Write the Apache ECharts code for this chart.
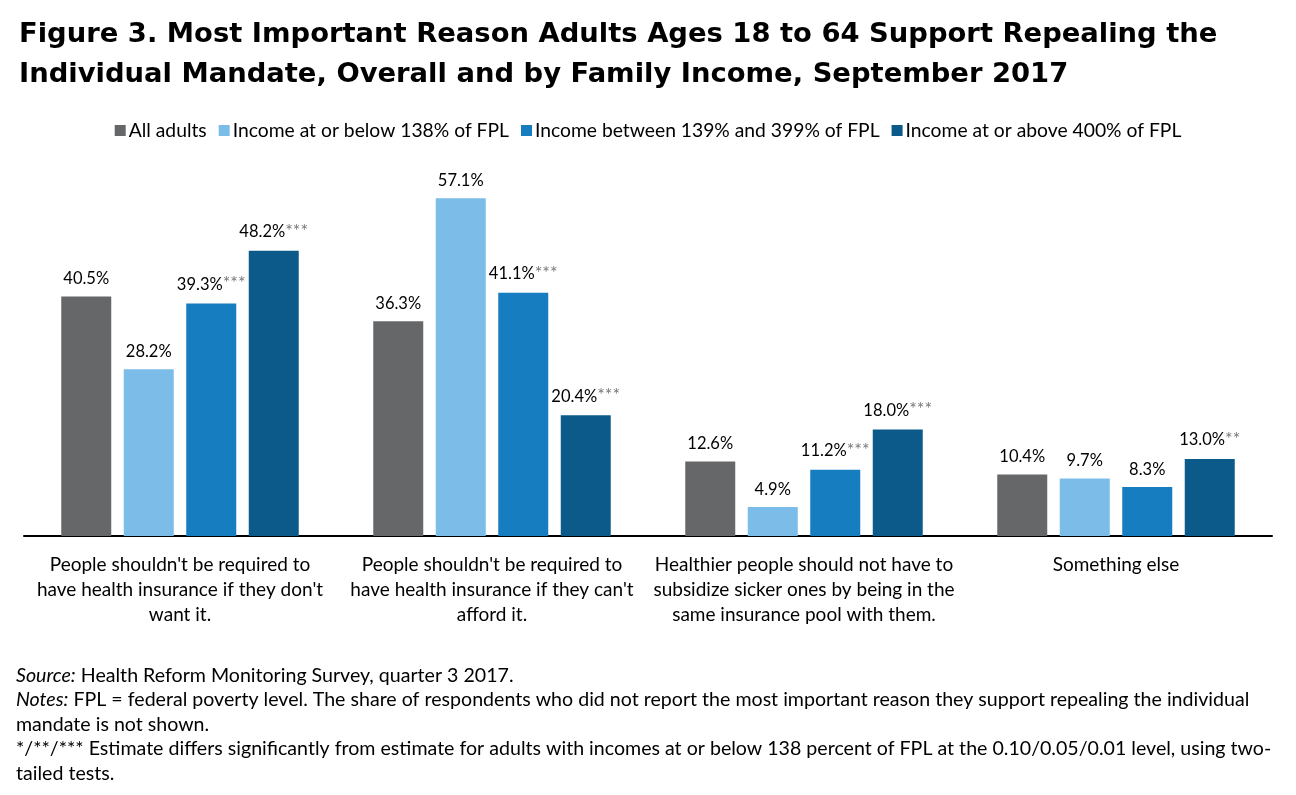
<!DOCTYPE html>
<html><head><meta charset="utf-8">
<script src="https://cdn.jsdelivr.net/npm/echarts@6/dist/echarts.min.js"></script>
<style>html,body{margin:0;padding:0;background:#fff}#c{width:1296px;height:795px}</style>
</head><body><div id="c"></div>
<script>
const categories = [
  "People shouldn't be required to\nhave health insurance if they don't\nwant it.",
  "People shouldn't be required to\nhave health insurance if they can't\nafford it.",
  "Healthier people should not have to\nsubsidize sicker ones by being in the\nsame insurance pool with them.",
  "Something else"
];
const seriesNames = ["All adults", "Income at or below 138% of FPL", "Income between 139% and 399% of FPL", "Income at or above 400% of FPL"];
const allAdults = [40.5, 36.3, 12.6, 10.4];
const lowIncome = [28.2, 57.1, 4.9, 9.7];
const midIncome = [39.3, 41.1, 11.2, 8.3];
const highIncome = [48.2, 20.4, 18.0, 13.0];
const allAdultsSig = ["", "", "", ""];
const lowIncomeSig = ["", "", "", ""];
const midIncomeSig = ["***", "***", "***", ""];
const highIncomeSig = ["***", "***", "***", "**"];
const colors = ["#666769", "#7BBDE8", "#167DC1", "#0C5A8A"];

const FONT = "Lato, 'Open Sans', sans-serif";
const values = [allAdults, lowIncome, midIncome, highIncome];
const sigs = [allAdultsSig, lowIncomeSig, midIncomeSig, highIncomeSig];

const chart = echarts.init(document.getElementById('c'));
chart.setOption({
  backgroundColor: '#fff',
  animation: false,
  textStyle: {fontFamily: FONT},
  title: {
    text: "Figure 3. Most Important Reason Adults Ages 18 to 64 Support Repealing the\nIndividual Mandate, Overall and by Family Income, September 2017",
    left: 14, top: 10,
    textStyle: {fontFamily: "'DejaVu Sans', sans-serif", fontSize: 27.4, fontWeight: 'bold', color: '#000', lineHeight: 40}
  },
  legend: {
    top: 116, left: 'center',
    itemWidth: 11, itemHeight: 11, itemGap: 12,
    icon: 'rect',
    textStyle: {fontFamily: FONT, fontSize: 19.3, color: '#000', padding: [0,0,0,-2]},
    data: seriesNames
  },
  grid: {left: 24, right: 24, top: 181, bottom: 259},
  xAxis: {
    type: 'category', data: categories,
    axisLine: {lineStyle: {color: '#000', width: 2}},
    axisTick: {show: false},
    axisLabel: {fontFamily: FONT, fontSize: 19, color: '#000', lineHeight: 25, margin: 16, interval: 0}
  },
  yAxis: {type: 'value', min: 0, max: 60, show: false, splitLine: {show: false}},
  series: seriesNames.map((name, i) => ({
    name: name, type: 'bar',
    data: values[i],
    barWidth: 50, barGap: '25%',
    itemStyle: {color: colors[i]},
    label: {
      show: true, position: 'top', distance: 9,
      formatter: p => '{v|' + p.value.toFixed(1) + '%}' + (sigs[i][p.dataIndex] ? '{s|' + sigs[i][p.dataIndex] + '}' : ''),
      rich: {
        v: {fontFamily: FONT, fontSize: 16.5, color: '#000'},
        s: {fontFamily: FONT, fontSize: 18, color: '#777', padding: [0,0,2,0]}
      }
    }
  })),
  graphic: [{
    type: 'text', left: 16, top: 663,
    style: {
      text: "{i|Source:} Health Reform Monitoring Survey, quarter 3 2017.\n{i|Notes:} FPL = federal poverty level. The share of respondents who did not report the most important reason they support repealing the individual\nmandate is not shown.\n*/**/*** Estimate differs significantly from estimate for adults with incomes at or below 138 percent of FPL at the 0.10/0.05/0.01 level, using two-\ntailed tests.",
      fontFamily: FONT, fontSize: 19.6, fill: '#000', lineHeight: 24.5,
      rich: {i: {fontStyle: 'italic', fontFamily: FONT, fontSize: 19.6, fill: '#000'}}
    }
  }]
});
</script></body></html>
